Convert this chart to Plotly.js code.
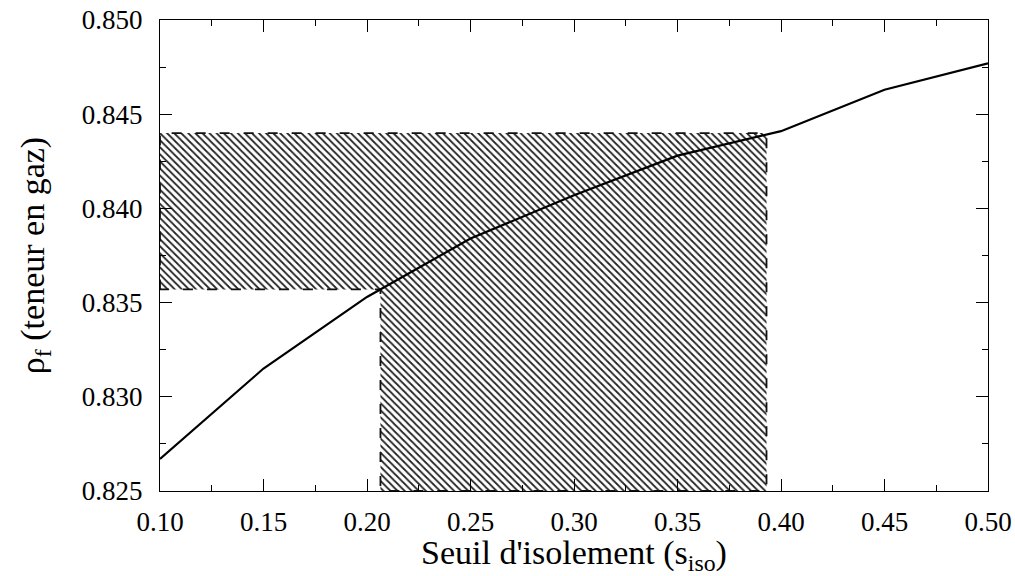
<!DOCTYPE html>
<html>
<head>
<meta charset="utf-8">
<script src="https://cdn.plot.ly/plotly-3.0.1.min.js"></script>
<style>
html,body{margin:0;padding:0;background:#fff;}
#chart{width:1015px;height:576px;}
</style>
</head>
<body>
<div id="chart"></div>
<script>
// Data
const sIso = [0.10, 0.15, 0.20, 0.25, 0.30, 0.35, 0.40, 0.45, 0.50];
const rhoF = [0.8267, 0.8315, 0.8353, 0.8384, 0.8407, 0.8428, 0.8441, 0.8463, 0.8477];
// Hatched zone limits
const sLow = 0.2065, sHigh = 0.393;
const rhoLow = 0.8357, rhoHigh = 0.8440;
const xMin = 0.10, xMax = 0.50, yMin = 0.825, yMax = 0.850;

const zoneX = [xMin, xMin, sHigh, sHigh, sLow, sLow, xMin];
const zoneY = [rhoLow, rhoHigh, rhoHigh, yMin, yMin, rhoLow, rhoLow];

const font = '"Liberation Serif", "Times New Roman", serif';

const traces = [
  {
    x: zoneX, y: zoneY, type: 'scatter', mode: 'lines',
    fill: 'toself', fillcolor: 'rgba(0,0,0,0)',
    fillpattern: {shape: '\\', size: 5, solidity: 0.35, fgcolor: '#222', bgcolor: 'white'},
    line: {color: '#111', width: 1.8, dash: '10px,14px'},
    hoverinfo: 'skip', showlegend: false
  },
  {
    x: sIso, y: rhoF, type: 'scatter', mode: 'lines',
    line: {color: '#000', width: 2.2},
    showlegend: false
  }
];

const axisCommon = {
  showgrid: false, zeroline: false,
  showline: true, linecolor: '#000', linewidth: 1.2, mirror: 'ticks',
  ticks: 'inside', ticklen: 12, tickwidth: 1, tickcolor: '#000',
  tickfont: {family: font, size: 27, color: '#000'}
};

const layout = {
  width: 1015, height: 576,
  margin: {l: 160, r: 27, t: 20, b: 85},
  paper_bgcolor: 'white', plot_bgcolor: 'white',
  font: {family: font, size: 27, color: '#000'},
  xaxis: Object.assign({}, axisCommon, {
    range: [xMin, xMax], dtick: 0.05, tick0: 0.10, tickformat: '.2f',
    ticklabelstandoff: 6,
    minor: {dtick: 0.025, ticks: 'inside', ticklen: 6, tickcolor: '#000', tickwidth: 1},
    title: {text: "Seuil d'isolement (s<sub>iso</sub>)", font: {family: font, size: 34, color: '#000'}, standoff: 4}
  }),
  yaxis: Object.assign({}, axisCommon, {
    range: [yMin, yMax], dtick: 0.005, tick0: 0.825, tickformat: '.3f',
    ticklabelstandoff: 11,
    minor: {dtick: 0.0025, ticks: 'inside', ticklen: 6, tickcolor: '#000', tickwidth: 1},
    title: {text: 'ρ<sub>f</sub> (teneur en gaz)', font: {family: font, size: 34, color: '#000'}, standoff: 26}
  })
};

Plotly.newPlot('chart', traces, layout, {displayModeBar: false, staticPlot: true});
</script>
</body>
</html>
